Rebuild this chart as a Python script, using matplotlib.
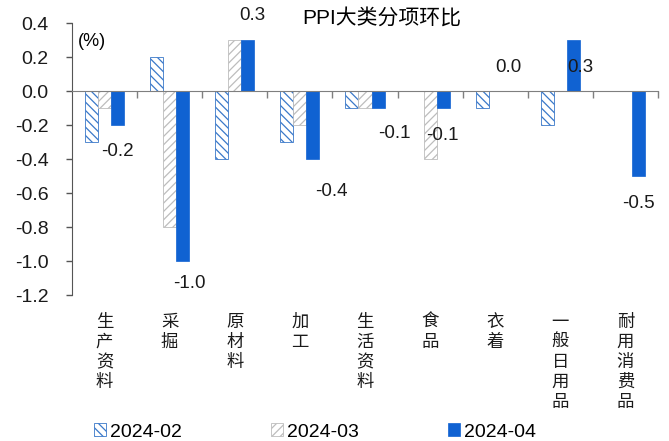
import numpy as np
import matplotlib
matplotlib.use('Agg')
import matplotlib.pyplot as plt
import matplotlib.transforms as mtransforms

plt.rcParams['font.family'] = ['Liberation Sans', 'Noto Sans CJK SC', 'DejaVu Sans']
plt.rcParams['hatch.linewidth'] = 0.9

categories = ['生产资料', '采掘', '原材料', '加工', '生活资料', '食品', '衣着', '一般日用品', '耐用消费品']
series_names = ['2024-02', '2024-03', '2024-04']
feb = [-0.3, 0.2, -0.4, -0.3, -0.1, 0.0, -0.1, -0.2, 0.0]
mar = [-0.1, -0.8, 0.3, -0.2, -0.1, -0.4, 0.0, 0.0, 0.0]
apr = [-0.2, -1.0, 0.3, -0.4, -0.1, -0.1, 0.0, 0.3, -0.5]
yticks = [-1.2, -1.0, -0.8, -0.6, -0.4, -0.2, 0.0, 0.2, 0.4]

# label nudges (pixels) for the 2024-04 value labels
label_offsets = [(0, -27), (7, -23), (5, 25), (18, -32), (16, -25),
                 (-1, -27), (0, 23), (7, -28), (0, -28)]

fig = plt.figure(figsize=(6.69, 4.41), dpi=100)
ax = fig.add_axes([72 / 669, 1 - 295 / 441, 586 / 669, 272 / 441])

x = np.arange(len(categories))
w = 0.2
ax.bar(x - w, feb, w, color='white', edgecolor='#3a78c9', hatch='\\\\\\\\', linewidth=0.6,
       label=series_names[0])
ax.bar(x, mar, w, color='white', edgecolor='#bdbdbd', hatch='////', linewidth=0.6,
       label=series_names[1])
bars = ax.bar(x + w, apr, w, color='#1062d2', edgecolor='#1062d2', linewidth=0.5,
              label=series_names[2])

for b, v, (dx, dy) in zip(bars, apr, label_offsets):
    ax.annotate(f'{v:.1f}', (b.get_x() + b.get_width() / 2, v),
                xytext=(dx, dy), textcoords='offset pixels',
                ha='center', va='center', fontsize=13.5, color='#1a1a1a')

ax.set_xlim(-0.5, len(categories) - 0.5)
ax.set_ylim(-1.2, 0.4)
ax.set_yticks(yticks)
ax.set_yticklabels([f'{t:.1f}' for t in yticks])
ax.tick_params(axis='y', direction='out', length=4, width=1, color='#555555',
               labelsize=14, pad=13, labelcolor='#1a1a1a')

ax.spines['top'].set_visible(False)
ax.spines['right'].set_visible(False)
ax.spines['left'].set_color('#555555')
ax.spines['bottom'].set_position(('data', 0))
ax.spines['bottom'].set_color('#7f7f7f')
ax.set_xticks(x + 0.5)
ax.set_xticklabels([])
ax.tick_params(axis='x', direction='out', length=5, width=1, color='#7f7f7f')

# vertical category names under the plot
trans = mtransforms.blended_transform_factory(ax.transData, ax.transAxes)
for i, name in enumerate(categories):
    ax.text(i, -0.065, '\n'.join(name), transform=trans, ha='center', va='top',
            fontsize=12.5, family=['Noto Sans CJK SC'], linespacing=1.15, color='#1a1a1a')

ax.text(0.01, 0.965, '(%)', transform=ax.transAxes, ha='left', va='top', fontsize=13)
fig.text(382 / 669, 1 - 18 / 441, 'PPI大类分项环比', ha='center', va='center', fontsize=15)

fig.legend(loc='center', bbox_to_anchor=(315 / 669, 1 - 432 / 441), ncol=3,
           frameon=False, fontsize=14, handlelength=0.6, handleheight=0.6,
           handletextpad=0.2, columnspacing=4.6, borderpad=0)

fig.savefig('out.png', dpi=100, facecolor='white')
